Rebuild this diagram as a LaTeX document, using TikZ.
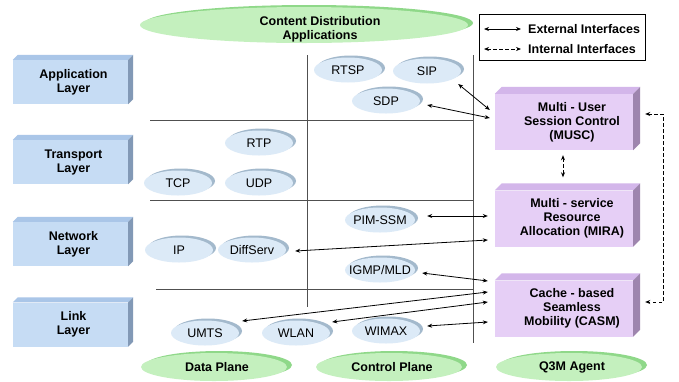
\documentclass[tikz,border=0pt]{standalone}
\usepackage{fontspec}
\setmainfont{Liberation Sans}
\usetikzlibrary{shapes.geometric,arrows.meta,shadows}
\definecolor{blueF}{HTML}{C6DCF4}
\definecolor{blueT}{HTML}{AAC6E8}
\definecolor{blueR}{HTML}{8299B6}
\definecolor{purF}{HTML}{E6CFF6}
\definecolor{purT}{HTML}{D3B6EA}
\definecolor{purR}{HTML}{9E85AE}
\definecolor{diskF}{HTML}{DCEAF7}
\definecolor{diskR}{HTML}{A3B9CC}
\definecolor{greenF}{HTML}{C4F0BE}
\definecolor{greenR}{HTML}{8FD889}
\definecolor{gridc}{HTML}{505050}
\newcommand{\fnt}{\fontsize{12.5}{14}\selectfont}
\begin{document}
\begin{tikzpicture}[x=1pt,y=-1pt,
  >={Stealth[length=5pt,width=4pt]},
  grid/.style={draw=gridc, line width=0.7pt},
  ext/.style={<->, line width=0.8pt},
  int/.style={<->, line width=0.9pt, dash pattern=on 3.5pt off 2.5pt},
  disk/.style={ellipse, minimum width=68pt, minimum height=25pt, inner sep=0pt, fill=diskF,
     general shadow={fill=diskR, shadow xshift=3pt, shadow yshift=2pt},
     label={[font=\fnt]center:#1}},
  gbase/.style={ellipse, minimum width=146pt, minimum height=28pt, inner sep=0pt, fill=greenF,
     general shadow={fill=greenR, shadow xshift=5pt, shadow yshift=2pt}},
  gdisk/.style={gbase, label={[font=\fnt\bfseries, xshift=3pt]center:#1}},
  boxtext/.style={font=\fnt\bfseries, align=center},
  layerbox/.style={rectangle, minimum width=115pt, minimum height=44pt, inner sep=0pt, fill=blueF},
  agentbox/.style={rectangle, minimum width=138pt, minimum height=56pt, inner sep=0pt, fill=purF},
]
\path[use as bounding box, fill=white] (0,0) rectangle (679,381);

% grid lines
\draw[grid] (150,120) -- (473,120);
\draw[grid] (150,200) -- (473,200);
\draw[grid] (156,289) -- (473,289);
\draw[grid] (307,55) -- (307,307);
\draw[grid] (473,55) -- (473,343);

% green planes
\node[gbase, minimum width=328pt, minimum height=36pt,
  label={[boxtext, xshift=16pt, yshift=-4pt]center:Content Distribution\\Applications}] (cda) at (304,25) {};
\node[gdisk=Data Plane] (dp) at (214,367) {};
\node[gdisk=Control Plane] (cp) at (389,367) {};
\node[gdisk=Q3M Agent] (qa) at (569,367) {};

% layer boxes
\node[layerbox, label={[boxtext, xshift=3pt]center:Application\\Layer}] (app) at (70.5,82) {};
\node[layerbox, label={[boxtext, xshift=3pt]center:Transport\\Layer}] (tra) at (70.5,162) {};
\node[layerbox, label={[boxtext, xshift=3pt]center:Network\\Layer}] (net) at (70.5,244) {};
\node[layerbox, label={[boxtext, xshift=3pt]center:Link\\Layer}] (lnk) at (70.5,324.5) {};
\foreach \n in {app,tra,net,lnk}{
  \fill[blueT] (\n.north west) -- ([shift={(5pt,5pt)}]\n.north west) -- ([shift={(5pt,5pt)}]\n.north east) -- (\n.north east) -- cycle;
  \fill[blueR] (\n.north east) -- ([shift={(5pt,5pt)}]\n.north east) -- ([shift={(5pt,5pt)}]\n.south east) -- (\n.south east) -- cycle;
}

% agent boxes
\node[agentbox, label={[boxtext, xshift=8pt]center:Multi - User\\Session Control\\(MUSC)}] (musc) at (564,122) {};
\node[agentbox, label={[boxtext, xshift=8pt]center:Multi - service\\Resource\\Allocation (MIRA)}] (mira) at (564,218.5) {};
\node[agentbox, label={[boxtext, xshift=8pt]center:Cache - based\\Seamless\\Mobility (CASM)}] (casm) at (564,308.5) {};
\foreach \n in {musc,mira,casm}{
  \fill[purT] (\n.north west) -- ([shift={(7pt,7pt)}]\n.north west) -- ([shift={(7pt,7pt)}]\n.north east) -- (\n.north east) -- cycle;
  \fill[purR] (\n.north east) -- ([shift={(7pt,7pt)}]\n.north east) -- ([shift={(7pt,7pt)}]\n.south east) -- (\n.south east) -- cycle;
}

% protocol disks
\node[disk=RTSP] (rtsp) at (348,70) {};
\node[disk=SIP] (sip) at (427,71) {};
\node[disk=SDP] (sdp) at (386,101) {};
\node[disk=RTP] (rtp) at (259,143) {};
\node[disk=TCP] (tcp) at (178,183) {};
\node[disk=UDP] (udp) at (259,183) {};
\node[disk=IP] (ip) at (179,250) {};
\node[disk=DiffServ] (diff) at (252,250) {};
\node[disk=PIM-SSM, minimum width=70pt] (pim) at (380,220) {};
\node[disk=IGMP/MLD, minimum width=70pt] (igmp) at (380,270) {};
\node[disk=UMTS] (umts) at (205,333) {};
\node[disk=WLAN] (wlan) at (296,333) {};
\node[disk=WIMAX] (wimax) at (386,331) {};

% external interfaces
\draw[ext] ([xshift=-3pt,yshift=-13pt]sip.east) -- ([xshift=-5pt,yshift=12pt]musc.west);
\draw[ext] ([xshift=7pt,yshift=-4pt]sdp.east) -- ([xshift=-5pt,yshift=4pt]musc.west);
\draw[ext] ([xshift=12pt,yshift=4pt]pim.east) -- ([xshift=-7pt,yshift=2.5pt]mira.west);
\draw[ext] ([xshift=9pt,yshift=-1pt]diff.east) -- ([xshift=-7pt,yshift=-21.5pt]mira.west);
\draw[ext] ([xshift=7pt,yshift=-3pt]igmp.east) -- ([xshift=-7pt,yshift=27.5pt]casm.west);
\draw[ext] ([xshift=3pt,yshift=12pt]umts.east) -- ([xshift=-7pt,yshift=16.5pt]casm.west);
\draw[ext] ([xshift=2pt,yshift=11pt]wlan.east) -- ([xshift=-7pt,yshift=6.5pt]casm.west);
\draw[ext] ([xshift=7pt,yshift=5pt]wimax.east) -- ([xshift=-7pt,yshift=-13.5pt]casm.west);

% internal interfaces
\draw[int, shorten <=5pt, shorten >=13pt] ([xshift=-1pt]musc.south) -- ([xshift=-1pt]mira.north);
\draw[int] ([xshift=12pt,yshift=8pt]musc.east) -- ++(18,0) |- ([xshift=12pt,yshift=6.5pt]casm.east);

% legend
\node[draw, line width=0.8pt, minimum width=166pt, minimum height=46pt, inner sep=0pt] (legend) at (562,37) {};
\node[boxtext, anchor=west, inner sep=1pt] (lext) at (527,29) {External Interfaces};
\node[boxtext, anchor=west, inner sep=1pt] (lint) at (527,49) {Internal Interfaces};
\draw[ext] ([xshift=-43pt]lext.west) -- ([xshift=-6pt]lext.west);
\draw[int] ([xshift=-43pt]lint.west) -- ([xshift=-6pt]lint.west);
\end{tikzpicture}
\end{document}
